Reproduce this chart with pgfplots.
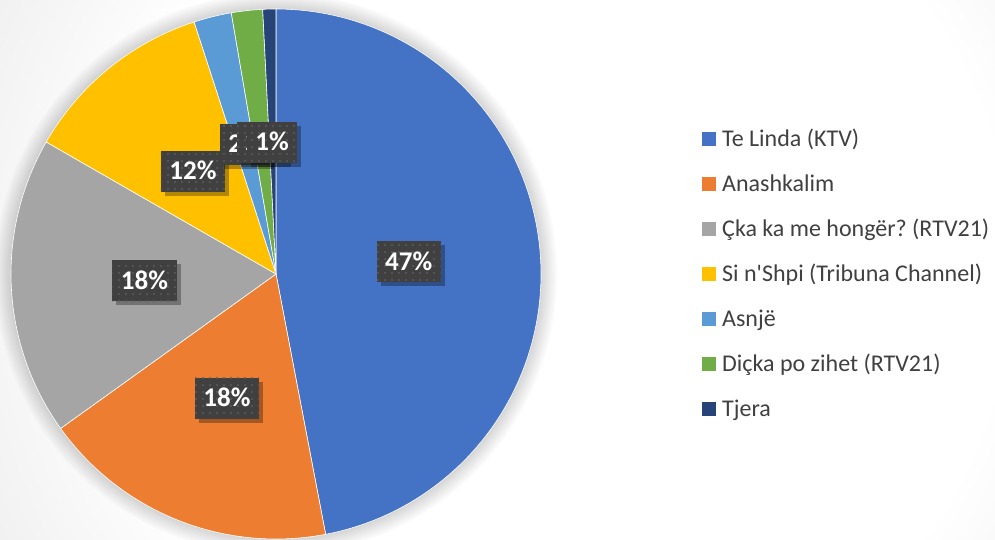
\documentclass[border=0pt]{standalone}
\usepackage{fontspec}
\setmainfont{Carlito}[Ligatures=TeXOff]
\usepackage{pgfplots}
\pgfplotsset{compat=1.18}
\usepackage{pgfplotstable}
\usetikzlibrary{shadows,patterns.meta}
\frenchspacing

\definecolor{cA}{HTML}{4472C4}
\definecolor{cB}{HTML}{ED7D31}
\definecolor{cC}{HTML}{A5A5A5}
\definecolor{cD}{HTML}{FFC000}
\definecolor{cE}{HTML}{5B9BD5}
\definecolor{cF}{HTML}{70AD47}
\definecolor{cG}{HTML}{264478}
\definecolor{lblbg}{HTML}{404040}
\definecolor{lbldot}{HTML}{5C5C5C}
\definecolor{legtext}{HTML}{404040}
\definecolor{bgouter}{HTML}{CACACA}

\pgfdeclareradialshading{bgshade}{\pgfpoint{0bp}{0bp}}{color(0bp)=(white); color(13bp)=(white); color(32bp)=(bgouter); color(50bp)=(bgouter)}

% slice values (percent)
\def\vA{47.0}% Te Linda (KTV)
\def\vB{18.1}% Anashkalim
\def\vC{18.2}% Cka ka me honger? (RTV21)
\def\vD{11.7}% Si n'Shpi (Tribuna Channel)
\def\vE{2.3}%  Asnje
\def\vF{1.9}%  Dicka po zihet (RTV21)
\def\vG{0.8}%  Tjera

\pgfmathsetmacro\aA{90}
\pgfmathsetmacro\aB{\aA-3.6*\vA}
\pgfmathsetmacro\aC{\aB-3.6*\vB}
\pgfmathsetmacro\aD{\aC-3.6*\vC}
\pgfmathsetmacro\aE{\aD-3.6*\vD}
\pgfmathsetmacro\aF{\aE-3.6*\vE}
\pgfmathsetmacro\aG{\aF-3.6*\vF}
\pgfmathsetmacro\aH{\aG-3.6*\vG}

% data label positions
\pgfplotstableread{
x y label
408.7 277.5 47\%
227 141 18\%
144.5 258.5 18\%
193 367.5 12\%
245 394.5 2\%
262 396.5 2\%
272 396.5 1\%
}\labeltable

\begin{document}
\begin{tikzpicture}
\begin{scope}
\clip (0,0) rectangle (995pt,539pt);
\shade[shading=bgshade] (560pt,269pt) circle (860pt);
\foreach \r in {1,...,8} \fill[black, opacity=0.02] (276pt,265pt) circle ({265pt+2*\r pt});
\fill[white, opacity=0.35] (690pt,107pt) rectangle (995pt,422pt);
\end{scope}
\begin{axis}[
  x=1pt, y=1pt, xmin=0, xmax=995, ymin=0, ymax=539,
  at={(0,0)}, anchor=south west,
  hide axis,
  legend cell align=left,
  legend image code/.code={\fill[#1, draw=none] (0pt,-7pt) rectangle (14pt,7pt);},
  legend style={at={(0.69347,0.78293)}, anchor=north west, draw=none, fill=none,
    font=\fontsize{24}{28}\selectfont, text=legtext,
    inner xsep=12pt, inner ysep=12pt, row sep=25pt, column sep=6pt,
    nodes={inner sep=0pt, text height=17pt, text depth=3pt, text=legtext}},
]
\addplot[fill=cA, draw=white, line width=0.6pt, domain=\aB:\aA, samples=150] ({276+265*cos(x)},{265+265*sin(x)}) -- (276,265) -- cycle;
\addlegendentry{Te Linda (KTV)}
\addplot[fill=cB, draw=white, line width=0.6pt, domain=\aC:\aB, samples=80] ({276+265*cos(x)},{265+265*sin(x)}) -- (276,265) -- cycle;
\addlegendentry{Anashkalim}
\addplot[fill=cC, draw=white, line width=0.6pt, domain=\aD:\aC, samples=80] ({276+265*cos(x)},{265+265*sin(x)}) -- (276,265) -- cycle;
\addlegendentry{Çka ka me hongër? (RTV21)}
\addplot[fill=cD, draw=white, line width=0.6pt, domain=\aE:\aD, samples=60] ({276+265*cos(x)},{265+265*sin(x)}) -- (276,265) -- cycle;
\addlegendentry{Si n'Shpi (Tribuna Channel)}
\addplot[fill=cE, draw=white, line width=0.6pt, domain=\aF:\aE, samples=20] ({276+265*cos(x)},{265+265*sin(x)}) -- (276,265) -- cycle;
\addlegendentry{Asnjë}
\addplot[fill=cF, draw=white, line width=0.6pt, domain=\aG:\aF, samples=20] ({276+265*cos(x)},{265+265*sin(x)}) -- (276,265) -- cycle;
\addlegendentry{Diçka po zihet (RTV21)}
\addplot[fill=cG, draw=white, line width=0.6pt, domain=\aH:\aG, samples=10] ({276+265*cos(x)},{265+265*sin(x)}) -- (276,265) -- cycle;
\addlegendentry{Tjera}
\addplot[forget plot, draw=none, mark=none, point meta=explicit symbolic,
  nodes near coords, nodes near coords align=center,
  every node near coord/.append style={fill=lblbg, text=white,
    font=\fontsize{27}{32}\selectfont\bfseries,
    inner xsep=8.5pt, inner ysep=0pt, minimum height=41pt,
    text height=17pt, text depth=0pt, anchor=center,
    drop shadow={shadow xshift=4pt, shadow yshift=-4pt, opacity=0.3, fill=black},
    postaction={pattern={Dots[distance=7pt, radius=1.2pt]}, pattern color=lbldot}}]
  table[x=x, y=y, meta=label] {\labeltable};
\end{axis}
\pgfresetboundingbox
\path[use as bounding box] (0,0) rectangle (995pt,539pt);
\end{tikzpicture}
\end{document}
